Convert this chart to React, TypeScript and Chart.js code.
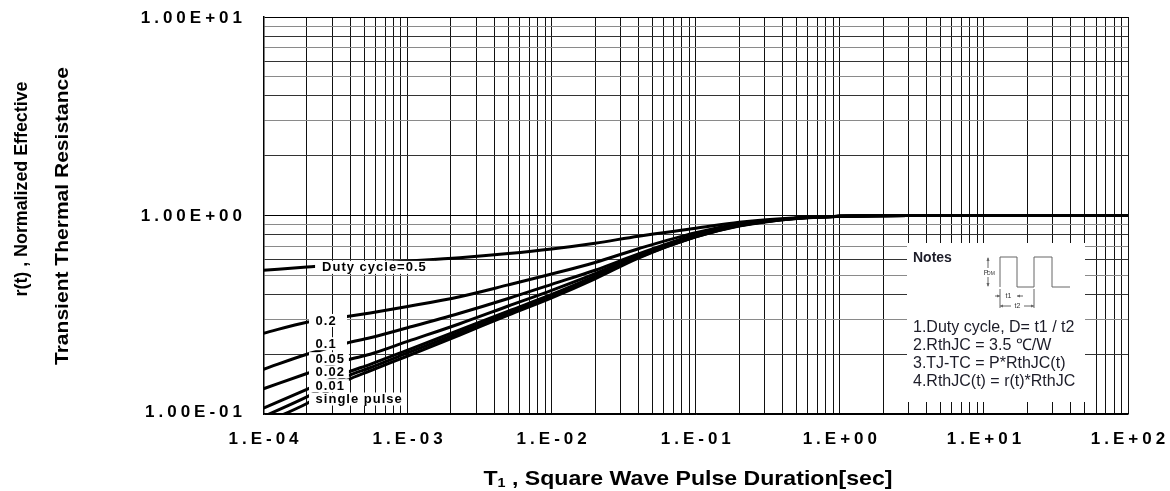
import React, { useEffect, useRef } from 'react';
import { Chart, registerables } from 'chart.js';
Chart.register(...registerables);

// Pulse duration T1 [sec]
const pulseTimes = [1e-4, 2e-4, 3.8e-4, 5.5e-4, 1e-3, 2.3e-3, 5e-3, 1e-2, 2e-2, 4e-2, 1e-1, 2e-1, 5e-1, 1, 3, 10, 100];
// r(t) per duty cycle
const duty05 = [0.53, 0.55, 0.568, 0.575, 0.59, 0.613, 0.643, 0.678, 0.725, 0.787, 0.862, 0.925, 0.975, 0.99, 1, 1, 1];
const duty02 = [0.255, 0.29, 0.31, 0.323, 0.348, 0.39, 0.447, 0.507, 0.58, 0.68, 0.82, 0.905, 0.97, 0.99, 1, 1, 1];
const duty01 = [0.168, 0.2, 0.228, 0.242, 0.272, 0.322, 0.382, 0.45, 0.53, 0.64, 0.8, 0.9, 0.97, 0.99, 1, 1, 1];
const duty005 = [0.134, 0.16, 0.187, 0.2, 0.232, 0.285, 0.35, 0.42, 0.51, 0.63, 0.79, 0.895, 0.97, 0.99, 1, 1, 1];
const duty002 = [0.107, 0.133, 0.162, 0.178, 0.21, 0.265, 0.33, 0.4, 0.495, 0.62, 0.785, 0.89, 0.968, 0.99, 1, 1, 1];
const duty001 = [0.097, 0.122, 0.155, 0.171, 0.203, 0.257, 0.322, 0.39, 0.488, 0.615, 0.78, 0.888, 0.967, 0.99, 1, 1, 1];
const singlePulse = [0.09, 0.113, 0.148, 0.165, 0.196, 0.25, 0.315, 0.385, 0.48, 0.61, 0.78, 0.885, 0.966, 0.99, 1, 1, 1];

const seriesNames = ['Duty cycle=0.5', '0.2', '0.1', '0.05', '0.02', '0.01', 'single pulse'];
const seriesValues = [duty05, duty02, duty01, duty005, duty002, duty001, singlePulse];
// label anchor (time, r) for the curve labels
const labelTimes = [2.55e-4, 2.3e-4, 2.3e-4, 2.3e-4, 2.3e-4, 2.3e-4, 2.3e-4];
const labelValues = [0.548, 0.296, 0.226, 0.19, 0.163, 0.139, 0.119];

const xTickValues = [1e-4, 1e-3, 1e-2, 1e-1, 1, 10, 100];
const xTickLabels = ['1.E-04', '1.E-03', '1.E-02', '1.E-01', '1.E+00', '1.E+01', '1.E+02'];
const yTickValues = [0.1, 1, 10];
const yTickLabels = ['1.00E-01', '1.00E+00', '1.00E+01'];

const xTitleMain = 'T';
const xTitleSub = '1';
const xTitleRest = ' , Square Wave Pulse Duration[sec]';
const yTitle1 = 'r(t) , Normalized Effective';
const yTitle2 = 'Transient Thermal Resistance';

const notesTitle = 'Notes';
const notesLines = ['1.Duty cycle, D= t1 / t2', '2.RthJC = 3.5 \u2103/W', '3.TJ-TC = P*RthJC(t)', '4.RthJC(t) = r(t)*RthJC'];

const FONT = '"Liberation Sans", Arial, sans-serif';

function logTicks(min: number, max: number) {
  const out: { value: number }[] = [];
  const e0 = Math.round(Math.log10(min));
  const e1 = Math.round(Math.log10(max));
  for (let e = e0; e < e1; e++) {
    for (let m = 1; m < 10; m++) out.push({ value: parseFloat((m * Math.pow(10, e)).toPrecision(6)) });
  }
  out.push({ value: max });
  return out;
}

function mantissa(v: number) {
  const e = Math.floor(Math.log10(v) + 1e-9);
  return Math.round(v / Math.pow(10, e));
}

// draw text centred at (cx, cy), stretched/condensed to a given length, optionally rotated
function drawFitted(ctx: CanvasRenderingContext2D, text: string, cx: number, cy: number, target: number, rotate: boolean) {
  const w = ctx.measureText(text).width;
  ctx.save();
  ctx.translate(cx, cy);
  if (rotate) ctx.rotate(-Math.PI / 2);
  ctx.scale(target / w, 1);
  ctx.textAlign = 'center';
  ctx.fillText(text, 0, 0);
  ctx.restore();
}

const overlayPlugin = {
  id: 'overlay',
  afterDatasetsDraw(chart: any) {
    const ctx = chart.ctx as CanvasRenderingContext2D;
    const xs = chart.scales.x;
    const ys = chart.scales.y;
    ctx.save();
    // curve labels
    ctx.font = `bold 13px ${FONT}`;
    (ctx as any).letterSpacing = '1px';
    ctx.textBaseline = 'middle';
    ctx.textAlign = 'left';
    for (let i = 0; i < seriesNames.length; i++) {
      const px = xs.getPixelForValue(labelTimes[i]);
      const py = ys.getPixelForValue(labelValues[i]);
      const w = ctx.measureText(seriesNames[i]).width;
      const left = i === 0 ? px - 7 : 309;
      const right = i === 0 ? px + w + 8 : Math.max(px + w + 4, 347);
      ctx.fillStyle = '#fff';
      ctx.fillRect(left, py - 6.5, right - left, 13);
      ctx.fillStyle = '#000';
      ctx.fillText(seriesNames[i], px, py + 0.5);
    }
    (ctx as any).letterSpacing = '0px';

    // notes box
    const bx = 907, by = 243, bw = 178, bh = 159;
    ctx.fillStyle = '#fff';
    ctx.fillRect(bx, by, bw, bh);
    ctx.fillStyle = '#1c1c28';
    ctx.font = `bold 14px ${FONT}`;
    ctx.fillText(notesTitle, 913, 258);
    ctx.font = `16px ${FONT}`;
    notesLines.forEach((s, i) => ctx.fillText(s, 913, 328 + i * 17.7));

    // waveform sketch
    ctx.strokeStyle = '#666';
    ctx.lineWidth = 1;
    ctx.beginPath();
    ctx.moveTo(1000, 287); ctx.lineTo(1000, 257); ctx.lineTo(1017, 257); ctx.lineTo(1017, 287);
    ctx.lineTo(1034, 287); ctx.lineTo(1034, 257); ctx.lineTo(1052, 257); ctx.lineTo(1052, 287); ctx.lineTo(1070, 287);
    ctx.moveTo(988, 258); ctx.lineTo(988, 286);
    ctx.moveTo(1034, 289); ctx.lineTo(1034, 308);
    ctx.moveTo(1000, 289); ctx.lineTo(1000, 308);
    ctx.moveTo(995, 296); ctx.lineTo(1000, 296);
    ctx.moveTo(1017, 296); ctx.lineTo(1023, 296);
    ctx.moveTo(1000, 306); ctx.lineTo(1011, 306);
    ctx.moveTo(1024, 306); ctx.lineTo(1034, 306);
    ctx.stroke();
    ctx.fillStyle = '#666';
    const arrow = (x: number, y: number, dir: number) => {
      ctx.beginPath(); ctx.moveTo(x, y); ctx.lineTo(x - 3 * dir, y - 1.5); ctx.lineTo(x - 3 * dir, y + 1.5); ctx.closePath(); ctx.fill();
    };
    arrow(1000, 296, 1); arrow(1017, 296, -1); arrow(1000, 306, -1); arrow(1034, 306, 1);
    ctx.beginPath(); ctx.moveTo(988, 257); ctx.lineTo(986.5, 261); ctx.lineTo(989.5, 261); ctx.closePath(); ctx.fill();
    ctx.beginPath(); ctx.moveTo(988, 287); ctx.lineTo(986.5, 283); ctx.lineTo(989.5, 283); ctx.closePath(); ctx.fill();
    ctx.fillStyle = '#333';
    ctx.font = `7px ${FONT}`;
    ctx.textAlign = 'center';
    ctx.fillText('t1', 1008.5, 296);
    ctx.fillText('t2', 1017.5, 306);
    ctx.fillStyle = '#fff';
    ctx.fillRect(983, 268, 13, 9);
    ctx.fillStyle = '#333';
    ctx.fillText('P', 986, 273);
    ctx.font = `5px ${FONT}`;
    ctx.fillText('DM', 991, 274);
    ctx.restore();
  },
  afterDraw(chart: any) {
    const ctx = chart.ctx as CanvasRenderingContext2D;
    const xs = chart.scales.x;
    const ys = chart.scales.y;
    ctx.save();
    ctx.fillStyle = '#000';
    ctx.textBaseline = 'middle';
    // tick labels
    ctx.font = `bold 17px ${FONT}`;
    const sp = 4;
    (ctx as any).letterSpacing = sp + 'px';
    ctx.textAlign = 'center';
    xTickValues.forEach((v, i) => {
      ctx.fillText(xTickLabels[i], xs.getPixelForValue(v) + sp / 2, 439);
    });
    ctx.textAlign = 'right';
    yTickValues.forEach((v, i) => {
      ctx.fillText(yTickLabels[i], 242 + sp, ys.getPixelForValue(v) + (v === 0.1 ? -2 : 1));
    });
    (ctx as any).letterSpacing = '0px';
    // x title
    ctx.font = `bold 21px ${FONT}`;
    const wMain = ctx.measureText(xTitleMain).width;
    ctx.font = `bold 13px ${FONT}`;
    const wSub = ctx.measureText(xTitleSub).width;
    ctx.font = `bold 21px ${FONT}`;
    const wRest = ctx.measureText(xTitleRest).width;
    const total = wMain + wSub + wRest;
    const k = 409 / total;
    ctx.save();
    ctx.translate(688 - 409 / 2, 479);
    ctx.scale(k, 1);
    ctx.textAlign = 'left';
    ctx.fillText(xTitleMain, 0, 0);
    ctx.font = `bold 13px ${FONT}`;
    ctx.fillText(xTitleSub, wMain, 4);
    ctx.font = `bold 21px ${FONT}`;
    ctx.fillText(xTitleRest, wMain + wSub, 0);
    ctx.restore();
    // y titles
    ctx.font = `bold 19px ${FONT}`;
    drawFitted(ctx, yTitle1, 22, 189, 215, true);
    drawFitted(ctx, yTitle2, 63, 216, 298, true);
    ctx.restore();
  },
};

export default function App() {
  const ref = useRef<HTMLCanvasElement>(null);
  useEffect(() => {
    const datasets = seriesNames.map((name, i) => ({
      label: name,
      data: pulseTimes.map((t, j) => ({ x: t, y: seriesValues[i][j] })),
      borderColor: '#000',
      backgroundColor: '#000',
      borderWidth: 3,
      pointRadius: 0,
      fill: false,
      cubicInterpolationMode: 'monotone' as const,
    }));
    const chart = new Chart(ref.current!, {
      type: 'line',
      data: { datasets },
      options: {
        responsive: false,
        animation: false,
        events: [],
        layout: { padding: { top: 17, right: 42, left: 0, bottom: 0 } },
        plugins: { legend: { display: false }, tooltip: { enabled: false }, title: { display: false } },
        scales: {
          x: {
            type: 'logarithmic',
            min: 1e-4,
            max: 100,
            afterBuildTicks: (s: any) => { s.ticks = logTicks(1e-4, 100); },
            afterFit: (s: any) => { s.height = 77; },
            ticks: { display: false },
            grid: { drawTicks: false, color: '#111', lineWidth: 1 },
            border: { display: true, color: '#000', width: 1.5 },
          },
          y: {
            type: 'logarithmic',
            min: 0.1,
            max: 10,
            afterBuildTicks: (s: any) => { s.ticks = logTicks(0.1, 10); },
            afterFit: (s: any) => { s.width = 263.5; },
            ticks: { display: false },
            grid: {
              drawTicks: false,
              color: (c: any) => {
                const v = c.tick ? c.tick.value : 1;
                const m = mantissa(v);
                if (m === 1) return '#000';
                return m % 2 === 1 ? '#8a8a8a' : '#333';
              },
              lineWidth: 1,
            },
            border: { display: true, color: '#000', width: 1.5 },
          },
        },
      },
      plugins: [overlayPlugin],
    });
    return () => chart.destroy();
  }, []);
  return (
    <div style={{ position: 'fixed', left: 0, top: 0, width: 1170, height: 491, background: '#fff' }}>
      <canvas ref={ref} width={1170} height={491} style={{ display: 'block' }} />
    </div>
  );
}
